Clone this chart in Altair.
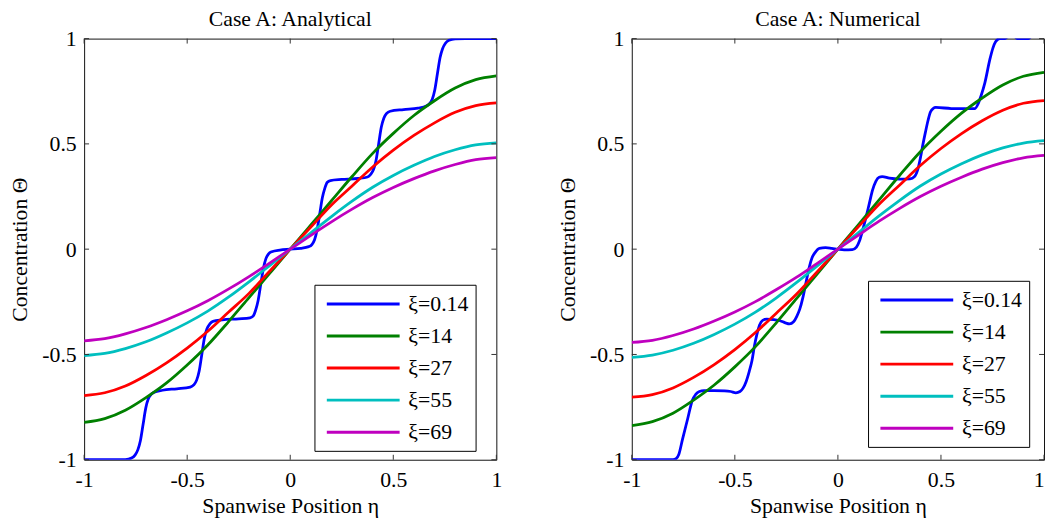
import altair as alt
import pandas as pd

SERIES = ["ξ=0.14", "ξ=14", "ξ=27", "ξ=55", "ξ=69"]
COLORS = ["#0000ff", "#008000", "#ff0000", "#00bfbf", "#bf00bf"]
TICKS = [-1, -0.5, 0, 0.5, 1]

# smooth curves sampled at these positions
ETA_SMOOTH = [-1.0, -0.9, -0.8, -0.7, -0.6, -0.5, -0.4, -0.3, -0.2, -0.1, 0.0,
              0.1, 0.2, 0.3, 0.4, 0.5, 0.6, 0.7, 0.8, 0.9, 1.0]

# ---- Case A: Analytical ----
A_XI14 = [-0.823, -0.805, -0.765, -0.705, -0.635, -0.55, -0.455, -0.345, -0.23, -0.115, 0.0,
          0.115, 0.23, 0.345, 0.455, 0.55, 0.635, 0.705, 0.765, 0.805, 0.823]
A_XI27 = [-0.695, -0.682, -0.65, -0.60, -0.54, -0.47, -0.39, -0.30, -0.21, -0.105, 0.0,
          0.105, 0.21, 0.30, 0.39, 0.47, 0.54, 0.60, 0.65, 0.682, 0.695]
A_XI55 = [-0.505, -0.495, -0.472, -0.44, -0.398, -0.35, -0.294, -0.228, -0.155, -0.078, 0.0,
          0.078, 0.155, 0.228, 0.294, 0.35, 0.398, 0.44, 0.472, 0.495, 0.505]
A_XI69 = [-0.435, -0.425, -0.402, -0.372, -0.335, -0.293, -0.245, -0.19, -0.13, -0.066, 0.0,
          0.066, 0.13, 0.19, 0.245, 0.293, 0.335, 0.372, 0.402, 0.425, 0.435]

A_BLUE_ETA = [-1.0, -0.85, -0.80, -0.77, -0.753, -0.739, -0.727, -0.714, -0.701, -0.689,
              -0.675, -0.66, -0.62, -0.55, -0.485, -0.468, -0.454, -0.442, -0.429, -0.416,
              -0.404, -0.39, -0.375, -0.33, -0.25, -0.195, -0.18, -0.168, -0.156, -0.143,
              -0.13, -0.118, -0.105, -0.09, -0.05, 0.0, 0.05, 0.09, 0.105, 0.118,
              0.13, 0.143, 0.156, 0.168, 0.18, 0.195, 0.25, 0.33, 0.375, 0.39,
              0.404, 0.416, 0.429, 0.442, 0.454, 0.468, 0.485, 0.55, 0.62, 0.66,
              0.675, 0.689, 0.701, 0.714, 0.727, 0.739, 0.753, 0.77, 0.80, 0.85, 1.0]
A_BLUE = [-1.0, -1.0, -0.999, -0.992, -0.978, -0.952, -0.91, -0.833, -0.755, -0.712,
          -0.69, -0.68, -0.670, -0.663, -0.655, -0.645, -0.622, -0.58, -0.50, -0.42,
          -0.378, -0.355, -0.343, -0.336, -0.331, -0.326, -0.318, -0.29, -0.245, -0.167,
          -0.09, -0.045, -0.022, -0.012, -0.004, 0.0, 0.004, 0.012, 0.022, 0.045,
          0.09, 0.167, 0.245, 0.29, 0.318, 0.326, 0.331, 0.336, 0.343, 0.355,
          0.378, 0.42, 0.50, 0.58, 0.622, 0.645, 0.655, 0.663, 0.670, 0.68,
          0.69, 0.712, 0.755, 0.833, 0.91, 0.952, 0.978, 0.992, 0.999, 1.0, 1.0]

# ---- Case A: Numerical ----
N_XI14 = [-0.838, -0.819, -0.779, -0.717, -0.645, -0.559, -0.463, -0.351, -0.234, -0.117, 0.0,
          0.117, 0.234, 0.351, 0.463, 0.56, 0.646, 0.718, 0.78, 0.821, 0.84]
N_XI27 = [-0.703, -0.691, -0.659, -0.609, -0.548, -0.477, -0.396, -0.305, -0.213, -0.107, 0.0,
          0.107, 0.213, 0.305, 0.397, 0.478, 0.549, 0.61, 0.66, 0.693, 0.706]
N_XI55 = [-0.514, -0.503, -0.48, -0.447, -0.405, -0.356, -0.299, -0.232, -0.158, -0.079, 0.0,
          0.079, 0.158, 0.232, 0.3, 0.357, 0.406, 0.448, 0.481, 0.504, 0.515]
N_XI69 = [-0.443, -0.433, -0.41, -0.379, -0.341, -0.298, -0.249, -0.193, -0.133, -0.067, 0.0,
          0.067, 0.133, 0.194, 0.25, 0.299, 0.342, 0.38, 0.411, 0.434, 0.445]

N_BLUE_ETA = [-1.0, -0.8, -0.785, -0.772, -0.754, -0.73, -0.706, -0.69, -0.672, -0.65,
              -0.6, -0.55, -0.52, -0.495, -0.475, -0.46, -0.445, -0.43, -0.417, -0.405,
              -0.393, -0.38, -0.365, -0.345, -0.31, -0.28, -0.255, -0.235, -0.215, -0.2,
              -0.185, -0.17, -0.155, -0.14, -0.125, -0.11, -0.09, -0.06, -0.03, 0.0,
              0.03, 0.07, 0.09, 0.105, 0.12, 0.136, 0.152, 0.168, 0.184, 0.2,
              0.215, 0.25, 0.3, 0.35, 0.372, 0.388, 0.4, 0.413, 0.425, 0.437,
              0.449, 0.462, 0.475, 0.55, 0.62, 0.665, 0.68, 0.695, 0.713, 0.737,
              0.752, 0.765, 0.785, 0.81, 0.83, 0.855, 0.87, 0.925, 0.94, 1.0]
N_BLUE = [-1.0, -1.0, -0.995, -0.975, -0.903, -0.81, -0.717, -0.69, -0.676, -0.672,
          -0.672, -0.673, -0.676, -0.682, -0.676, -0.66, -0.628, -0.58, -0.53, -0.46,
          -0.405, -0.36, -0.338, -0.332, -0.335, -0.34, -0.35, -0.355, -0.345, -0.32,
          -0.285, -0.23, -0.16, -0.09, -0.04, -0.015, 0.004, 0.007, 0.004, 0.0,
          -0.003, -0.002, 0.01, 0.04, 0.09, 0.15, 0.215, 0.28, 0.322, 0.342,
          0.345, 0.337, 0.333, 0.334, 0.345, 0.38, 0.432, 0.5, 0.557, 0.61,
          0.651, 0.668, 0.673, 0.668, 0.667, 0.668, 0.69, 0.73, 0.79, 0.9,
          0.955, 0.985, 1.0, 1.0, 1.012, 1.012, 1.0, 1.0, 1.012, 1.012]

assert len(A_BLUE_ETA) == len(A_BLUE)
assert len(N_BLUE_ETA) == len(N_BLUE)

W, H = 417, 426
FONT = "Liberation Serif"


def build_df(blue_eta, blue, smooth):
    rows = []
    for e, v in zip(blue_eta, blue):
        rows.append({"eta": e, "theta": v, "series": SERIES[0]})
    for name, vals in zip(SERIES[1:], smooth):
        for e, v in zip(ETA_SMOOTH, vals):
            rows.append({"eta": e, "theta": v, "series": name})
    return pd.DataFrame(rows)


def panel(df, title, legend_x, legend_y, flush_last):
    if flush_last:
        x_align = {"condition": {"test": "datum.value == 1", "value": "right"}, "value": "center"}
    else:
        x_align = "center"
    x_axis = alt.Axis(values=TICKS, ticks=False, tickSize=0, domain=False, grid=False,
                      labelExpr="'' + datum.value", labelPadding=10, labelAlign=x_align,
                      labelFont=FONT, labelFontSize=22, labelColor="#000",
                      titleFont=FONT, titleFontSize=22, titleFontWeight="normal", titleColor="#000",
                      title="Spanwise Position η", titlePadding=5)
    y_axis = alt.Axis(values=TICKS, ticks=False, tickSize=0, domain=False, grid=False,
                      labelExpr="'' + datum.value", labelPadding=8,
                      labelFont=FONT, labelFontSize=22, labelColor="#000",
                      titleFont=FONT, titleFontSize=22, titleFontWeight="normal", titleColor="#000",
                      title="Concentration Θ", titlePadding=10)
    sc = alt.Scale(domain=[-1, 1], nice=False, zero=False)
    lines = alt.Chart(df).mark_line(strokeWidth=2.8, interpolate="monotone", clip=True).encode(
        x=alt.X("eta:Q", scale=sc, axis=x_axis),
        y=alt.Y("theta:Q", scale=sc, axis=y_axis),
        color=alt.Color("series:N", sort=SERIES,
                        scale=alt.Scale(domain=SERIES, range=COLORS),
                        legend=alt.Legend(title=None, orient="none", legendX=legend_x, legendY=legend_y,
                                          symbolType="M-0.636,0H6.06", symbolSize=484,
                                          symbolStrokeWidth=3, labelFont=FONT, labelFontSize=22,
                                          labelOffset=63, padding=7, rowPadding=8.4,
                                          strokeColor="#000", fillColor="white", labelColor="#000")),
    )
    tick_df = pd.DataFrame({"eta": TICKS, "theta": TICKS})
    tk = alt.Chart(tick_df).mark_rule(color="#333", strokeWidth=1)
    top = tk.encode(x=alt.X("eta:Q", scale=sc, axis=x_axis), y=alt.value(0), y2=alt.value(5))
    bottom = tk.encode(x=alt.X("eta:Q", scale=sc, axis=x_axis), y=alt.value(H), y2=alt.value(H - 5))
    left = tk.encode(y=alt.Y("theta:Q", scale=sc, axis=y_axis), x=alt.value(0), x2=alt.value(5))
    right = tk.encode(y=alt.Y("theta:Q", scale=sc, axis=y_axis), x=alt.value(W), x2=alt.value(W - 5))
    return alt.layer(lines, top, bottom, left, right).properties(
        width=W, height=H,
        title=alt.TitleParams(title, font=FONT, fontSize=22, fontWeight="normal", color="#000",
                              offset=-3),
    )


df_a = build_df(A_BLUE_ETA, A_BLUE, [A_XI14, A_XI27, A_XI55, A_XI69])
df_n = build_df(N_BLUE_ETA, N_BLUE, [N_XI14, N_XI27, N_XI55, N_XI69])

chart = alt.hconcat(
    panel(df_a, "Case A: Analytical", 233, 249, False),
    panel(df_n, "Case A: Numerical", 239, 245, True),
    spacing=54,
).resolve_scale(color="independent").resolve_legend(color="independent").properties(
    padding={"left": 0, "top": -4, "right": 0, "bottom": 0},
    background="white",
).configure_view(stroke="#111", strokeWidth=1)

chart.save("out.html", embed_options={"renderer": "svg", "actions": False})
